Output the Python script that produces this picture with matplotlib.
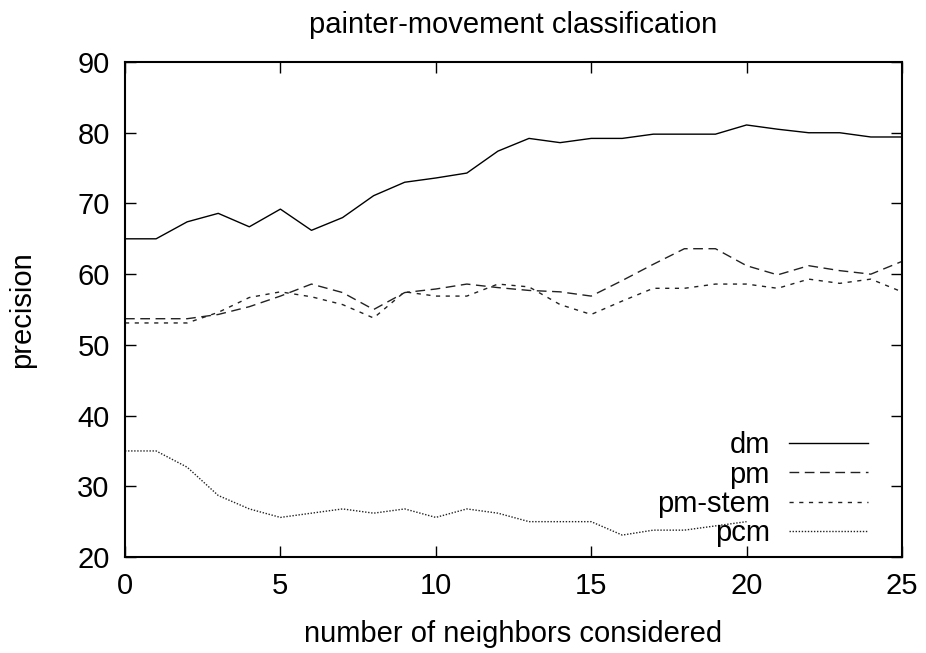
import matplotlib
matplotlib.use('Agg')
import matplotlib.pyplot as plt
import numpy as np

plt.rcParams['font.family'] = ['Liberation Sans', 'DejaVu Sans']

neighbors = list(range(26))
dm = [65.0, 65.0, 67.4, 68.6, 66.7, 69.2, 66.2, 68.0, 71.1, 73.0, 73.6, 74.3, 77.4,
      79.2, 78.6, 79.2, 79.2, 79.8, 79.8, 79.8, 81.1, 80.5, 80.0, 80.0, 79.4, 79.4]
pm = [53.7, 53.7, 53.7, 54.3, 55.4, 56.9, 58.6, 57.4, 55.0, 57.4, 57.9, 58.6, 58.1,
      57.7, 57.5, 56.9, 59.1, 61.4, 63.6, 63.6, 61.2, 59.9, 61.2, 60.5, 60.0, 61.8]
pm_stem = [53.1, 53.1, 53.1, 54.6, 56.7, 57.5, 56.8, 55.7, 53.8, 57.5, 56.9, 56.9, 58.6,
           58.2, 55.7, 54.3, 56.2, 58.0, 58.0, 58.6, 58.6, 58.0, 59.3, 58.7, 59.3, 57.5]
pcm_x = list(range(21))
pcm = [35.0, 35.0, 32.7, 28.7, 26.8, 25.6, 26.2, 26.8, 26.2, 26.8, 25.6, 26.8, 26.2,
       25.0, 25.0, 25.0, 23.1, 23.8, 23.8, 24.4, 25.0]

fig = plt.figure(figsize=(9.26, 6.53), dpi=100)
ax = fig.add_axes([0.135, 0.147, 0.839, 0.758])

lw = 1.0
ax.plot(neighbors, dm, color='black', lw=lw, linestyle='-', label='dm')
ax.plot(neighbors, pm, color='#222222', lw=lw, linestyle=(0, (7, 4)), label='pm')
ax.plot(neighbors, pm_stem, color='#222222', lw=lw, linestyle=(0, (3, 4)), label='pm-stem')
ax.plot(pcm_x, pcm, color='#222222', lw=lw, linestyle=(0, (1, 1.2)), label='pcm')

ax.set_xlim(0, 25)
ax.set_ylim(20, 90)
ax.set_xticks([0, 5, 10, 15, 20, 25])
ax.set_yticks([20, 30, 40, 50, 60, 70, 80, 90])

fs = 21
ax.tick_params(direction='in', length=8, width=1, top=True, right=True,
               labelsize=fs, pad=11)
for sp in ax.spines.values():
    sp.set_linewidth(1.5)

ax.set_title('painter-movement classification', fontsize=fs, pad=21)
ax.set_xlabel('number of neighbors considered', fontsize=fs, labelpad=14)
ax.set_ylabel('precision', fontsize=fs, labelpad=30)

ax.legend(loc='lower right', bbox_to_anchor=(0.982, -0.022), frameon=False,
          markerfirst=False, fontsize=fs, handlelength=2.7, handletextpad=0.65,
          labelspacing=0.05, borderpad=0.2)

fig.savefig('out.png', dpi=100)
